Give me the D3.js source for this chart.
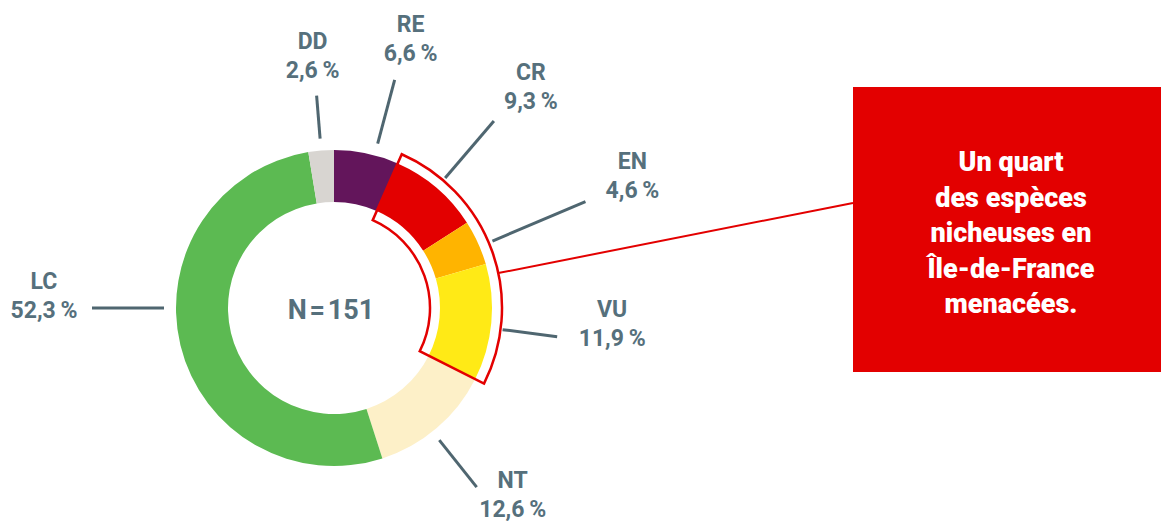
<!DOCTYPE html>
<html>
<head>
<meta charset="utf-8">
<script src="https://cdn.jsdelivr.net/npm/d3@7"></script>
<style>
  html, body { margin: 0; padding: 0; background: #fff; }
  svg { display: block; }
</style>
</head>
<body>
<div id="chart"></div>
<script>
// Red List status of breeding birds, share of species (%)
const codes = ["RE", "CR", "EN", "VU", "NT", "LC", "DD"]
const shares = [6.6, 9.3, 4.6, 11.9, 12.6, 52.3, 2.6]
const threatened = ["CR", "EN", "VU"]
const speciesCount = 151
const calloutLines = ["Un quart", "des espèces", "nicheuses en", "Île-de-France", "menacées."]

const COLORS = {
  RE: "#63155b",
  CR: "#e30000",
  EN: "#ffb400",
  VU: "#ffea16",
  NT: "#fdf0c8",
  LC: "#5cba52",
  DD: "#d8d5d1",
  text: "#56707c",
  leader: "#4f6670",
  alert: "#e30000"
}

// leader lines: nudge from slice middle (deg), radii, label offset from line end
const LEADERS = {
  DD: { nudge: 0, r0: 170, r1: 213, dx: -4, dy: -18 },
  RE: { nudge: 3, r0: 170, r1: 236, dx: 16, dy: -19 },
  CR: { nudge: 0, r0: 171, r1: 246, dx: 37, dy: -12 },
  EN: { nudge: 1.5, r0: 172, r1: 273, dx: 47, dy: -4 },
  VU: { nudge: 2, r0: 170, r1: 225, dx: 55, dy: 9 },
  NT: { nudge: 2, r0: 169, r1: 229, dx: 36, dy: 30 },
  LC: { fixed: 270, r0: 170, r1: 242, dx: -48, dy: 10 }
}

const W = 1161, H = 522
const cx = 334, cy = 308
const R = 158, r = 106
const FONT = "Roboto, 'DejaVu Sans', sans-serif"

const svg = d3.select("#chart").append("svg")
  .attr("width", W).attr("height", H)
  .attr("viewBox", `0 0 ${W} ${H}`)

const data = codes.map((c, i) => ({ code: c, value: shares[i] }))
const pie = d3.pie().sort(null).value(d => d.value)
const arcs = pie(data)

const arc = d3.arc().innerRadius(r).outerRadius(R)

const g = svg.append("g").attr("transform", `translate(${cx},${cy})`)

g.selectAll("path.slice")
  .data(arcs)
  .join("path")
  .attr("class", "slice")
  .attr("d", arc)
  .attr("fill", d => COLORS[d.data.code])

// Outline around threatened categories
const thr = arcs.filter(a => threatened.includes(a.data.code))
const thrStart = d3.min(thr, a => a.startAngle)
const thrEnd = d3.max(thr, a => a.endAngle)
g.append("path")
  .attr("d", d3.arc()({ innerRadius: 96, outerRadius: 168, startAngle: thrStart, endAngle: thrEnd }))
  .attr("fill", "none")
  .attr("stroke", COLORS.alert)
  .attr("stroke-width", 2.5)
  .attr("stroke-linejoin", "miter")

// Polar helper (angle clockwise from 12 o'clock)
const polar = (a, rad) => [Math.sin(a) * rad, -Math.cos(a) * rad]

// Leader lines and labels
arcs.forEach(a => {
  const L = LEADERS[a.data.code]
  const ang = L.fixed != null
    ? L.fixed * Math.PI / 180
    : (a.startAngle + a.endAngle) / 2 + L.nudge * Math.PI / 180
  const p0 = polar(ang, L.r0)
  const p1 = polar(ang, L.r1)
  g.append("line")
    .attr("x1", p0[0]).attr("y1", p0[1])
    .attr("x2", p1[0]).attr("y2", p1[1])
    .attr("stroke", COLORS.leader)
    .attr("stroke-width", 3)

  const t = g.append("text")
    .attr("text-anchor", "middle")
    .attr("fill", COLORS.text)
    .attr("font-family", FONT)
    .attr("font-weight", 700)
    .attr("font-size", "23px")
  t.append("tspan")
    .attr("x", p1[0] + L.dx).attr("y", p1[1] + L.dy - 29)
    .text(a.data.code)
  t.append("tspan")
    .attr("x", p1[0] + L.dx).attr("y", p1[1] + L.dy)
    .text(String(a.data.value).replace(".", ",") + "\u2009%")
})

// Centre total
g.append("text")
  .attr("x", -3).attr("y", 11)
  .attr("text-anchor", "middle")
  .attr("fill", COLORS.text)
  .attr("font-family", FONT)
  .attr("font-weight", 700)
  .attr("font-size", "27px")
  .text(`N\u200A=\u200A${speciesCount}`)

// Callout box
const box = { x: 853, y: 87, w: W - 853 + 10, h: 285 }
const linkAng = 78 * Math.PI / 180
const lp = polar(linkAng, 168)
svg.append("line")
  .attr("x1", cx + lp[0]).attr("y1", cy + lp[1])
  .attr("x2", box.x).attr("y2", 203)
  .attr("stroke", COLORS.alert)
  .attr("stroke-width", 2)

svg.append("rect")
  .attr("x", box.x).attr("y", box.y)
  .attr("width", box.w).attr("height", box.h)
  .attr("fill", COLORS.alert)

const ct = svg.append("text")
  .attr("text-anchor", "middle")
  .attr("fill", "#fff")
  .attr("font-family", FONT)
  .attr("font-weight", 900)
  .attr("font-size", "27px")
calloutLines.forEach((line, i) => {
  ct.append("tspan")
    .attr("x", 1011)
    .attr("y", 171 + i * 35.5)
    .text(line)
})
</script>
</body>
</html>
